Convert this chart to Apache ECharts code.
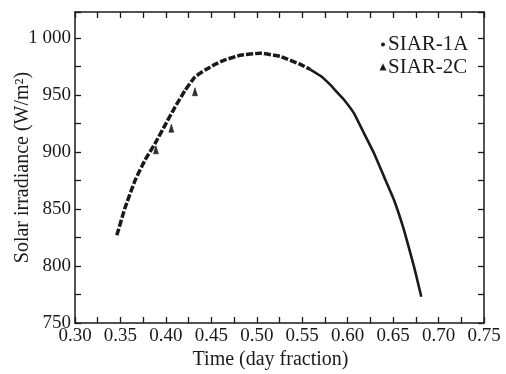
<!DOCTYPE html>
<html><head><meta charset="utf-8">
<script src="https://cdn.jsdelivr.net/npm/echarts@6/dist/echarts.min.js"></script>
<style>html,body{margin:0;padding:0;background:#fff}#c{width:506px;height:374px}</style>
</head><body><div id="c"></div>
<script>
// SIAR-1A measured curve, dashed-looking section (time as day fraction, irradiance W/m2)
const timeA = [0.346, 0.355, 0.366, 0.377, 0.388, 0.399, 0.410, 0.421, 0.432, 0.443, 0.454, 0.465, 0.482, 0.504, 0.526, 0.548, 0.559];
const irrA  = [827,   851,   875,   893,   907.5, 923.5, 939.5, 954,   966,   972,   977,   981,   985,   986.8, 984,   977,   972.5];
// SIAR-1A continuation (dense, solid-looking section)
const timeA2 = [0.559, 0.570, 0.581, 0.589, 0.596, 0.607, 0.618, 0.629, 0.640, 0.651, 0.662, 0.673, 0.681];
const irrA2  = [972.5, 967,   959,   952,   946,   934,   916.5, 899,   878.5, 858,   831.5, 799.5, 773];
// SIAR-2C points
const timeC = [0.389, 0.406, 0.432];
const irrC  = [902,   921,   953];
const xTicks = [0.30, 0.35, 0.40, 0.45, 0.50, 0.55, 0.60, 0.65, 0.70, 0.75];
const yTicks = [750, 800, 850, 900, 950, 1000];

const F = '"Liberation Serif", "Times New Roman", serif';
const C = '#1a1a1a';
const axisCommon = {
  axisLine: {show: true, lineStyle: {color: C, width: 1.5}},
  axisTick: {show: true, inside: true, length: 6, lineStyle: {color: C, width: 1.3}},
  minorTick: {show: true, splitNumber: 2, length: 6, lineStyle: {color: C, width: 1.3}},
  splitLine: {show: false}
};
const chart = echarts.init(document.getElementById('c'), null, {renderer: 'canvas'});
chart.setOption({
  animation: false,
  backgroundColor: '#fff',
  grid: {left: 75, right: 22, top: 12, bottom: 51, containLabel: false, outerBoundsMode: 'none'},
  legend: {
    orient: 'vertical', left: 375, top: 29, itemGap: 2,
    itemWidth: 4, itemHeight: 4,
    textStyle: {fontFamily: F, fontSize: 21, color: C, padding: [0, 0, 0, -2]},
    data: [{name: 'SIAR-1A', icon: 'circle'}, {name: 'SIAR-2C', icon: 'triangle', itemStyle: {color: '#000'}}]
  },
  xAxis: [
    Object.assign({}, axisCommon, {
      type: 'value', min: xTicks[0], max: xTicks[xTicks.length - 1], interval: 0.05,
      name: 'Time (day fraction)', nameLocation: 'middle', nameGap: 27, nameMoveOverlap: false,
      nameTextStyle: {fontFamily: F, fontSize: 20, color: C, padding: [0, 18, 0, 0]},
      axisLabel: {fontFamily: F, fontSize: 19, color: C, margin: 4,
        formatter: v => v.toFixed(2)}
    }),
    Object.assign({}, axisCommon, {
      type: 'value', position: 'top', min: xTicks[0], max: xTicks[xTicks.length - 1], interval: 0.05,
      axisLabel: {show: false}
    })
  ],
  yAxis: [
    Object.assign({}, axisCommon, {
      type: 'value', min: yTicks[0], max: 1023, interval: 50,
      name: 'Solar irradiance (W/m²)', nameLocation: 'middle', nameGap: 42, nameMoveOverlap: false,
      nameTextStyle: {fontFamily: F, fontSize: 20, color: C},
      axisLabel: {fontFamily: F, fontSize: 19, color: C, margin: 4, showMaxLabel: false,
        formatter: v => v === 1000 ? '1 000' : String(v)}
    }),
    Object.assign({}, axisCommon, {
      type: 'value', position: 'right', min: yTicks[0], max: 1023, interval: 50,
      axisLabel: {show: false}
    })
  ],
  series: [
    {
      name: 'SIAR-1A', type: 'line', xAxisIndex: 0, yAxisIndex: 0,
      data: timeA.map((t, i) => [t, irrA[i]]),
      showSymbol: false, symbol: 'circle', symbolSize: 3, smooth: 0.12,
      itemStyle: {color: C},
      lineStyle: {color: C, width: 3.5, type: [7, 2]}
    },
    {
      name: 'SIAR-1A', type: 'line', xAxisIndex: 0, yAxisIndex: 0,
      data: timeA2.map((t, i) => [t, irrA2[i]]),
      showSymbol: false, symbol: 'circle', symbolSize: 3, smooth: 0.1,
      itemStyle: {color: C},
      lineStyle: {color: C, width: 2.6, type: 'solid'}
    },
    {
      name: 'SIAR-2C', type: 'scatter', xAxisIndex: 0, yAxisIndex: 0,
      data: timeC.map((t, i) => [t, irrC[i]]),
      symbol: 'triangle', symbolSize: [5, 8],
      itemStyle: {color: '#000', borderColor: '#000', borderWidth: 0.6}
    }
  ]
});
</script></body></html>
